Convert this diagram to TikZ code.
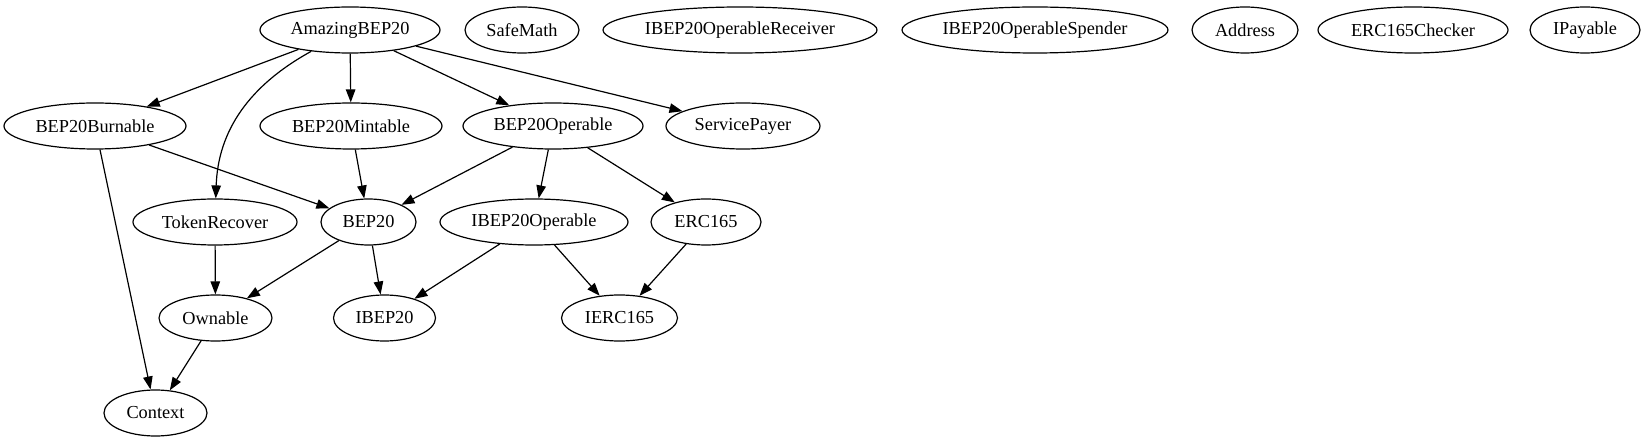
\documentclass[tikz,border=0pt]{standalone}
\usepackage{fontspec}
\setmainfont{Liberation Serif}
\usetikzlibrary{arrows.meta,shapes.geometric}
\begin{document}
\begin{tikzpicture}[x=1pt,y=-1pt,
  nd/.style={draw, ellipse, line width=1.2pt, inner sep=0pt, minimum height=46pt,
    font=\fontsize{18.3}{20}\selectfont},
  ed/.style={line width=1.2pt, -{Triangle[length=13pt,width=9.5pt]}}]
\useasboundingbox (0,0) rectangle (1645,443);
% row 1
\node[nd, minimum width=180pt] (amz) at (350,30) {AmazingBEP20};
\node[nd, minimum width=114pt] (safe) at (522,30) {SafeMath};
\node[nd, minimum width=274pt] (recv) at (740,30) {IBEP20OperableReceiver};
\node[nd, minimum width=266pt] (spnd) at (1035,30) {IBEP20OperableSpender};
\node[nd, minimum width=106pt] (addr) at (1245,30) {Address};
\node[nd, minimum width=190pt] (chk) at (1413,30) {ERC165Checker};
\node[nd, minimum width=110pt] (pay) at (1585,30) {IPayable};
% row 2
\node[nd, minimum width=182pt] (burn) at (95,126) {BEP20Burnable};
\node[nd, minimum width=182pt] (mint) at (351,126) {BEP20Mintable};
\node[nd, minimum width=180pt] (oper) at (553,126) {BEP20Operable};
\node[nd, minimum width=154pt] (svc) at (743,126) {ServicePayer};
% row 3
\node[nd, minimum width=164pt] (tok) at (215,222) {TokenRecover};
\node[nd, minimum width=95pt] (bep) at (368.5,222) {BEP20};
\node[nd, minimum width=188pt] (iop) at (534,222) {IBEP20Operable};
\node[nd, minimum width=110pt] (erc) at (706,222) {ERC165};
% row 4
\node[nd, minimum width=113pt] (own) at (215.5,318) {Ownable};
\node[nd, minimum width=102pt] (ibep) at (384.5,318) {IBEP20};
\node[nd, minimum width=116pt] (ierc) at (619.5,318) {IERC165};
% row 5
\node[nd, minimum width=103pt] (ctx) at (155.5,413) {Context};
% control points of the curved edge
\coordinate (c1) at (250,85);
\coordinate (c2) at (218,130);
% edges
\draw[ed] (amz) -- (burn);
\draw[ed] (amz) .. controls (c1) and (c2) .. (tok);
\draw[ed] (amz) -- (mint);
\draw[ed] (amz) -- (oper);
\draw[ed] (amz) -- (svc);
\draw[ed] (burn) -- (bep);
\draw[ed] (burn) -- (ctx);
\draw[ed] (mint) -- (bep);
\draw[ed] (oper) -- (bep);
\draw[ed] (oper) -- (iop);
\draw[ed] (oper) -- (erc);
\draw[ed] (tok) -- (own);
\draw[ed] (bep) -- (own);
\draw[ed] (bep) -- (ibep);
\draw[ed] (iop) -- (ibep);
\draw[ed] (iop) -- (ierc);
\draw[ed] (erc) -- (ierc);
\draw[ed] (own) -- (ctx);
\end{tikzpicture}
\end{document}
